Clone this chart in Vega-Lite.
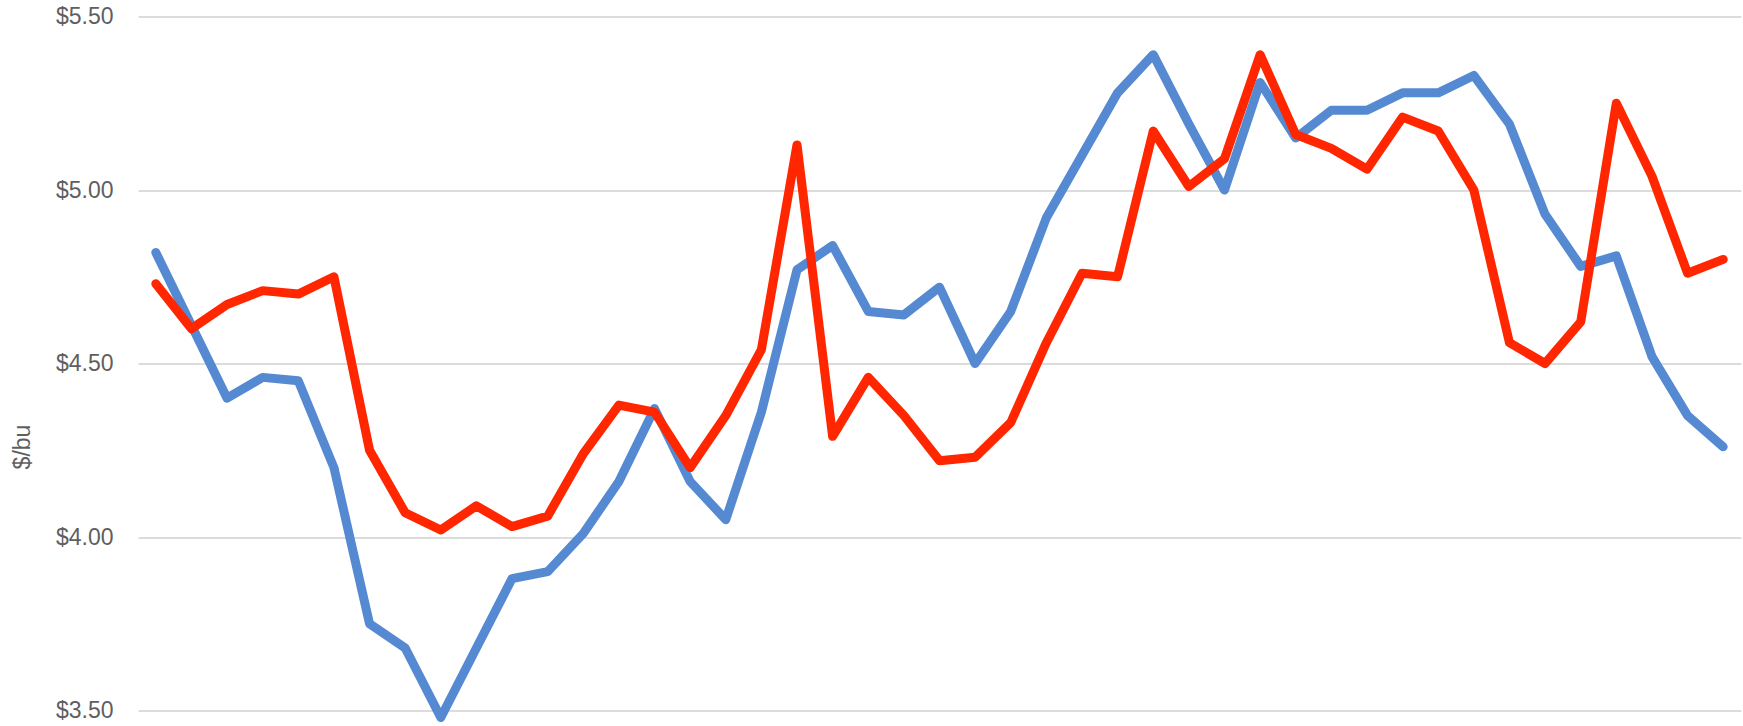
{
  "$schema": "https://vega.github.io/schema/vega-lite/v6.json",
  "autosize": {"type": "none"},
  "width": 1603,
  "height": 694,
  "padding": {"left": 138, "top": 16.5, "right": 2, "bottom": 15.5},
  "background": "white",
  "config": {"view": {"stroke": null}},
  "data": {"values": [
    {"i":0,"series":"Blue","price":4.82},{"i":1,"series":"Blue","price":4.61},{"i":2,"series":"Blue","price":4.40},{"i":3,"series":"Blue","price":4.46},{"i":4,"series":"Blue","price":4.45},
    {"i":5,"series":"Blue","price":4.20},{"i":6,"series":"Blue","price":3.75},{"i":7,"series":"Blue","price":3.68},{"i":8,"series":"Blue","price":3.48},{"i":9,"series":"Blue","price":3.68},
    {"i":10,"series":"Blue","price":3.88},{"i":11,"series":"Blue","price":3.90},{"i":12,"series":"Blue","price":4.01},{"i":13,"series":"Blue","price":4.16},{"i":14,"series":"Blue","price":4.37},
    {"i":15,"series":"Blue","price":4.16},{"i":16,"series":"Blue","price":4.05},{"i":17,"series":"Blue","price":4.36},{"i":18,"series":"Blue","price":4.77},{"i":19,"series":"Blue","price":4.84},
    {"i":20,"series":"Blue","price":4.65},{"i":21,"series":"Blue","price":4.64},{"i":22,"series":"Blue","price":4.72},{"i":23,"series":"Blue","price":4.50},{"i":24,"series":"Blue","price":4.65},
    {"i":25,"series":"Blue","price":4.92},{"i":26,"series":"Blue","price":5.10},{"i":27,"series":"Blue","price":5.28},{"i":28,"series":"Blue","price":5.39},{"i":29,"series":"Blue","price":5.19},
    {"i":30,"series":"Blue","price":5.00},{"i":31,"series":"Blue","price":5.31},{"i":32,"series":"Blue","price":5.15},{"i":33,"series":"Blue","price":5.23},{"i":34,"series":"Blue","price":5.23},
    {"i":35,"series":"Blue","price":5.28},{"i":36,"series":"Blue","price":5.28},{"i":37,"series":"Blue","price":5.33},{"i":38,"series":"Blue","price":5.19},{"i":39,"series":"Blue","price":4.93},
    {"i":40,"series":"Blue","price":4.78},{"i":41,"series":"Blue","price":4.81},{"i":42,"series":"Blue","price":4.52},{"i":43,"series":"Blue","price":4.35},{"i":44,"series":"Blue","price":4.26},
    {"i":0,"series":"Red","price":4.73},{"i":1,"series":"Red","price":4.60},{"i":2,"series":"Red","price":4.67},{"i":3,"series":"Red","price":4.71},{"i":4,"series":"Red","price":4.70},
    {"i":5,"series":"Red","price":4.75},{"i":6,"series":"Red","price":4.25},{"i":7,"series":"Red","price":4.07},{"i":8,"series":"Red","price":4.02},{"i":9,"series":"Red","price":4.09},
    {"i":10,"series":"Red","price":4.03},{"i":11,"series":"Red","price":4.06},{"i":12,"series":"Red","price":4.24},{"i":13,"series":"Red","price":4.38},{"i":14,"series":"Red","price":4.36},
    {"i":15,"series":"Red","price":4.20},{"i":16,"series":"Red","price":4.35},{"i":17,"series":"Red","price":4.54},{"i":18,"series":"Red","price":5.13},{"i":19,"series":"Red","price":4.29},
    {"i":20,"series":"Red","price":4.46},{"i":21,"series":"Red","price":4.35},{"i":22,"series":"Red","price":4.22},{"i":23,"series":"Red","price":4.23},{"i":24,"series":"Red","price":4.33},
    {"i":25,"series":"Red","price":4.56},{"i":26,"series":"Red","price":4.76},{"i":27,"series":"Red","price":4.75},{"i":28,"series":"Red","price":5.17},{"i":29,"series":"Red","price":5.01},
    {"i":30,"series":"Red","price":5.09},{"i":31,"series":"Red","price":5.39},{"i":32,"series":"Red","price":5.16},{"i":33,"series":"Red","price":5.12},{"i":34,"series":"Red","price":5.06},
    {"i":35,"series":"Red","price":5.21},{"i":36,"series":"Red","price":5.17},{"i":37,"series":"Red","price":5.00},{"i":38,"series":"Red","price":4.56},{"i":39,"series":"Red","price":4.50},
    {"i":40,"series":"Red","price":4.62},{"i":41,"series":"Red","price":5.25},{"i":42,"series":"Red","price":5.04},{"i":43,"series":"Red","price":4.76},{"i":44,"series":"Red","price":4.80}
  ]},
  "encoding": {
    "x": {"field": "i", "type": "quantitative", "scale": {"domain": [-0.5, 44.5], "nice": false, "zero": false}, "axis": null},
    "y": {
      "field": "price", "type": "quantitative",
      "scale": {"domain": [3.5, 5.5], "nice": false, "zero": false},
      "axis": {
        "values": [3.5, 4, 4.5, 5, 5.5],
        "format": "$.2f",
        "title": "$/bu",
        "titleFont": "Liberation Sans",
        "titleFontSize": 23,
        "titleFontWeight": "normal",
        "titleColor": "#5f5f5f",
        "titleAngle": -90,
        "titleAlign": "center",
        "titleBaseline": "middle",
        "titleX": -116,
        "titleY": 430,
        "labelFont": "Liberation Sans",
        "labelFontSize": 23,
        "labelColor": "#5f5f5f",
        "labelPadding": 25,
        "labelOverlap": false,
        "labelFlush": false,
        "labelBound": false,
        "ticks": false,
        "domain": false,
        "grid": true,
        "gridColor": "#dcdcdc",
        "gridWidth": 2
      }
    }
  },
  "layer": [
    {
      "transform": [{"filter": "datum.series === 'Blue'"}],
      "mark": {"type": "line", "color": "#5589d2", "strokeWidth": 9, "strokeCap": "round", "strokeJoin": "round", "clip": false}
    },
    {
      "transform": [{"filter": "datum.series === 'Red'"}],
      "mark": {"type": "line", "color": "#ff2600", "strokeWidth": 9, "strokeCap": "round", "strokeJoin": "round", "clip": false}
    }
  ]
}
